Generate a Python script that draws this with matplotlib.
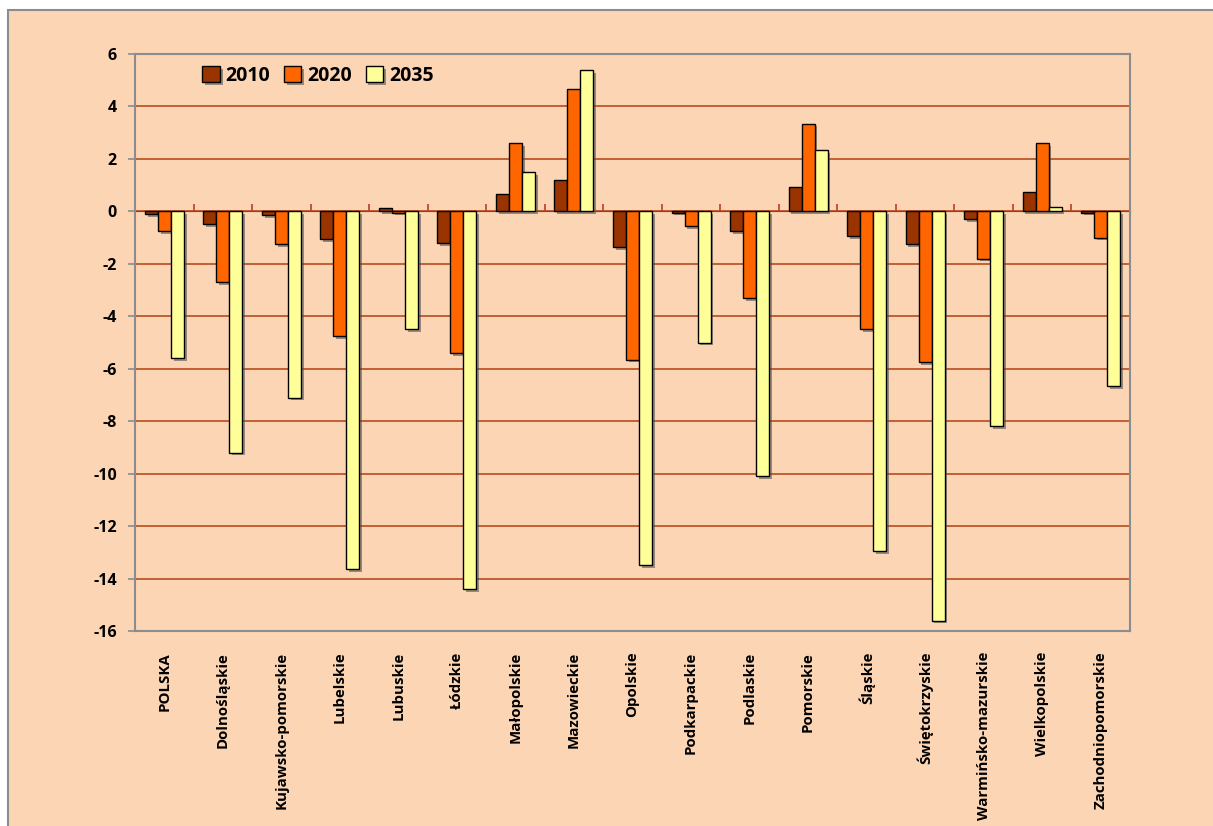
import numpy as np
import matplotlib
matplotlib.use("Agg")
import matplotlib.pyplot as plt
from matplotlib.patches import Rectangle
import matplotlib.patheffects as pe

regions = ["POLSKA", "Dolnośląskie", "Kujawsko-pomorskie", "Lubelskie", "Lubuskie",
           "Łódzkie", "Małopolskie", "Mazowieckie", "Opolskie", "Podkarpackie",
           "Podlaskie", "Pomorskie", "Śląskie", "Świętokrzyskie",
           "Warmińsko-mazurskie", "Wielkopolskie", "Zachodniopomorskie"]

v2010 = [-0.1, -0.5, -0.15, -1.05, 0.12, -1.2, 0.65, 1.2, -1.35, -0.05,
         -0.75, 0.92, -0.95, -1.25, -0.3, 0.75, -0.05]
v2020 = [-0.75, -2.7, -1.25, -4.75, -0.05, -5.4, 2.6, 4.65, -5.65, -0.55,
         -3.3, 3.35, -4.5, -5.75, -1.8, 2.6, -1.0]
v2035 = [-5.6, -9.2, -7.1, -13.65, -4.5, -14.4, 1.5, 5.4, -13.5, -5.0,
         -10.1, 2.33, -12.95, -15.6, -8.2, 0.15, -6.65]

series = [("2010", v2010, "#993300"), ("2020", v2020, "#FF6600"), ("2035", v2035, "#FFFF99")]
yticks = list(range(-16, 7, 2))

plt.rcParams["font.family"] = ["Open Sans", "DejaVu Sans"]
bg = "#FCD5B5"

fig = plt.figure(figsize=(12.13, 8.26), dpi=100)
fig.patch.set_facecolor("white")
# outer chart frame
fig.patches.append(Rectangle((8 / 1213, -0.01), 1.1, 1 - 10 / 826 + 0.01,
                             transform=fig.transFigure, facecolor=bg,
                             edgecolor="#8C8C8C", linewidth=1.5, zorder=-5))

ax = fig.add_axes([135 / 1213, 1 - 631 / 826, (1130 - 135) / 1213, (631 - 54) / 826])
ax.set_facecolor(bg)

x = np.arange(len(regions))
w = 0.222
shadow = [pe.SimplePatchShadow(offset=(2, -2), shadow_rgbFace="#555555", alpha=0.6), pe.Normal()]
for i, (name, vals, col) in enumerate(series):
    bars = ax.bar(x + (i - 1) * w, vals, width=w, color=col, edgecolor="black",
                  linewidth=1.0, label=name, zorder=3)
    for b in bars:
        b.set_path_effects(shadow)

ax.set_xlim(-0.5, len(regions) - 0.5)
ax.set_ylim(-16, 6)
ax.set_yticks(yticks)
ax.set_yticklabels([str(t) for t in yticks], fontsize=11.5, fontweight="bold")
ax.yaxis.grid(True, color="#B84A1E", linewidth=1.2, zorder=1)
ax.set_axisbelow(True)
ax.tick_params(axis="y", length=5, color="#8C8C8C", width=1.2, pad=8)

ax.set_xticks(x)
ax.set_xticklabels(regions, rotation=90, fontsize=10.8, fontweight="bold", va="top")
ax.tick_params(axis="x", length=0, pad=15)

for s in ax.spines.values():
    s.set_color("#8C8C8C")
    s.set_linewidth(1.5)

# zero line with category separators
zero = ax.secondary_xaxis(16 / 22)
zero.set_xticks(np.arange(len(regions) + 1) - 0.5)
zero.set_xticklabels([])
zero.tick_params(length=5, color="#C0392B", width=1.2, direction="out")
zero.spines["bottom"].set_color("#8B0000")
zero.spines["bottom"].set_linewidth(2.5)
zero.spines["bottom"].set_zorder(5)

leg = ax.legend(loc="upper left", bbox_to_anchor=(0.05, 1.01), ncol=3, frameon=False,
                prop={"weight": "bold", "size": 14}, handlelength=0.9, handleheight=0.9,
                handletextpad=0.3, columnspacing=0.7)

fig.savefig("out.png", dpi=100, facecolor=fig.get_facecolor())
